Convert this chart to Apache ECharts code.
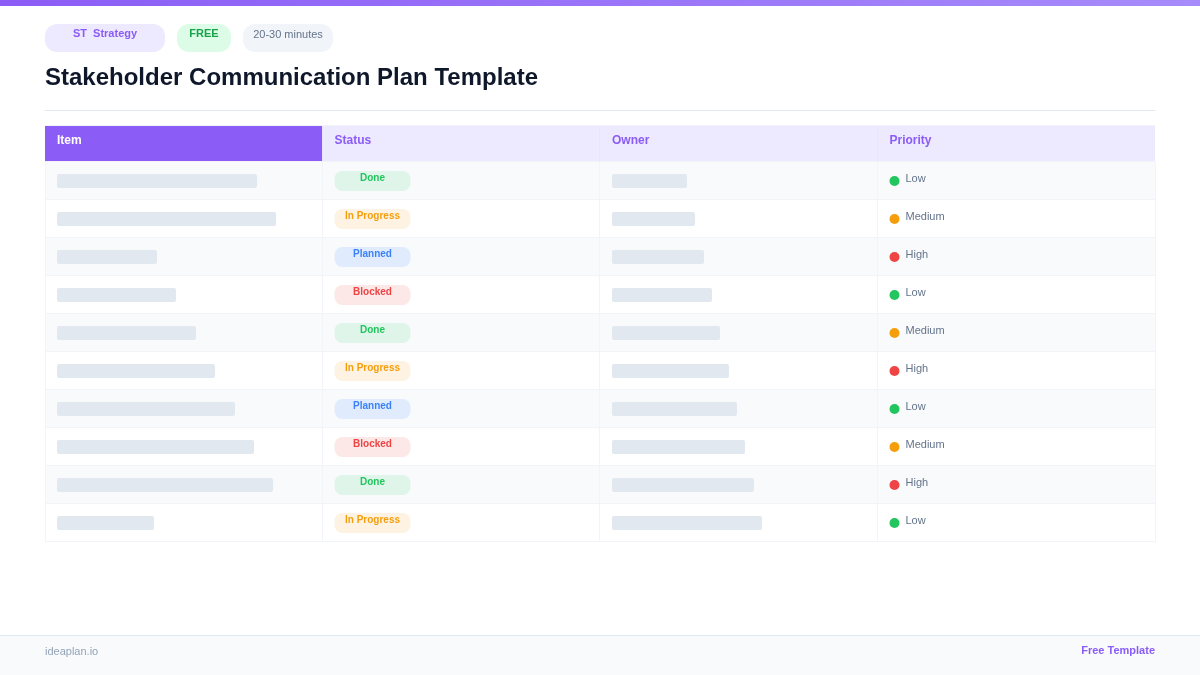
<!DOCTYPE html>
<html lang="en">
<head>
	<meta charset="UTF-8">
	<title>Stakeholder Communication Plan Template</title>
	<style>
		html, body { margin: 0; padding: 0; background: #fff; }
		#main { width: 1200px; height: 675px; }
	</style>
</head>
<body>
	<div id="main"></div>
	<script src="https://cdn.jsdelivr.net/npm/echarts@6/dist/echarts.min.js"></script>
	<script>
		var columns = ['Item', 'Status', 'Owner', 'Priority']
		var rows = ['1', '2', '3', '4', '5', '6', '7', '8', '9', '10']
		var itemWidths = [200, 219, 100, 119, 139, 158, 178, 197, 216, 97]
		var statuses = ['Done', 'In Progress', 'Planned', 'Blocked', 'Done', 'In Progress', 'Planned', 'Blocked', 'Done', 'In Progress']
		var ownerWidths = [75, 83, 92, 100, 108, 117, 125, 133, 142, 150]
		var priorities = ['Low', 'Medium', 'High', 'Low', 'Medium', 'High', 'Low', 'Medium', 'High', 'Low']

		var statusColors = {
			'Done': ['#22c55e', '#dff5e9'],
			'In Progress': ['#f59e0b', '#fef3e2'],
			'Planned': ['#3b82f6', '#e0ecfd'],
			'Blocked': ['#ef4444', '#fde8e8']
		}
		var priorityColors = { 'Low': '#22c55e', 'Medium': '#f59e0b', 'High': '#ef4444' }

		var FONT = '"Liberation Sans", Arial, sans-serif'
		var colWidth = 277.5
		var padding = 12

		function indexed(list) {
			return list.map(function (v, i) { return [i, v] })
		}

		// row background and cell borders
		function renderRow(params, api) {
			var c = api.coord([0, api.value(0)])
			var h = api.size([0, 1])[1]
			var top = c[1] - h / 2
			var children = [{
				type: 'rect',
				shape: { x: c[0], y: top, width: colWidth * 4, height: h },
				style: { fill: api.value(0) % 2 === 0 ? '#f8fafc' : '#ffffff' }
			}, {
				type: 'line',
				shape: { x1: c[0], y1: top + h - 0.5, x2: c[0] + colWidth * 4, y2: top + h - 0.5 },
				style: { stroke: '#f1f5f9', lineWidth: 1 }
			}]
			for (var i = 0; i <= 4; i++) {
				var x = i === 0 ? c[0] + 0.5 : (i === 4 ? c[0] + colWidth * 4 + 0.5 : Math.round(c[0] + colWidth * i) - 0.5)
				children.push({
					type: 'line',
					shape: { x1: x, y1: top, x2: x, y2: top + h },
					style: { stroke: '#f1f5f9', lineWidth: 1 }
				})
			}
			return { type: 'group', children: children }
		}

		function placeholder(col) {
			return function (params, api) {
				var c = api.coord([colWidth * col + padding, api.value(0)])
				return {
					type: 'rect',
					shape: { x: c[0], y: c[1] - 7, width: api.size([api.value(1), 0])[0], height: 14, r: 2 },
					style: { fill: '#e2e8f0' }
				}
			}
		}

		function renderStatus(params, api) {
			var c = api.coord([colWidth + padding, api.value(0)])
			var name = statuses[params.dataIndex]
			var color = statusColors[name]
			return {
				type: 'group',
				children: [{
					type: 'rect',
					shape: { x: c[0], y: c[1] - 10, width: 76, height: 20, r: 8 },
					style: { fill: color[1] }
				}, {
					type: 'text',
					style: {
						x: c[0] + 38, y: c[1] - 3, text: name, fill: color[0],
						font: 'bold 10px ' + FONT, textAlign: 'center', textVerticalAlign: 'middle'
					}
				}]
			}
		}

		function renderPriority(params, api) {
			var c = api.coord([colWidth * 3 + padding, api.value(0)])
			var name = priorities[params.dataIndex]
			return {
				type: 'group',
				children: [{
					type: 'circle',
					shape: { cx: c[0] + 5, cy: c[1], r: 5 },
					style: { fill: priorityColors[name] }
				}, {
					type: 'text',
					style: {
						x: c[0] + 16, y: c[1] - 2, text: name, fill: '#64748b',
						font: '11px ' + FONT, textAlign: 'left', textVerticalAlign: 'middle'
					}
				}]
			}
		}

		function text(x, y, str, fill, font, align) {
			return {
				type: 'text', x: x, y: y,
				style: { text: str, fill: fill, font: font + ' ' + FONT, textAlign: align || 'left', textVerticalAlign: 'middle' }
			}
		}
		function box(x, y, w, h, fill, r) {
			return { type: 'rect', shape: { x: x, y: y, width: w, height: h, r: r || 0 }, style: { fill: fill } }
		}

		// page furniture: top bar, badges, title, table header, footer
		var graphics = [
			{
				type: 'rect', shape: { x: 0, y: 0, width: 1200, height: 6 },
				style: {
					fill: new echarts.graphic.LinearGradient(0, 0, 1, 0, [
						{ offset: 0, color: '#8b5cf6' }, { offset: 1, color: '#a78bfa' }
					])
				}
			},
			box(45, 24, 120, 28, '#ede9fe', 12),
			text(105, 34, 'ST  Strategy', '#8b5cf6', 'bold 11px', 'center'),
			box(177, 24, 54, 28, '#dcfce7', 12),
			text(204, 34, 'FREE', '#16a34a', 'bold 11px', 'center'),
			box(243, 24, 90, 28, '#f1f5f9', 12),
			text(288, 35, '20-30 minutes', '#64748b', '11px', 'center'),
			text(45, 78, 'Stakeholder Communication Plan Template', '#0f172a', 'bold 24px'),
			box(45, 110, 1110, 1, '#e2e8f0'),
			box(45, 125, 1110, 1, '#f1f5f9'),
			box(45, 126, 1110, 35, '#ede9fe'),
			box(45, 126, 277, 35, '#8b5cf6'),
			box(45, 161, 1110, 1, '#f1f5f9'),
			box(0, 635, 1200, 40, '#f8fafc'),
			box(0, 635, 1200, 1, '#e2e8f0'),
			text(45, 652, 'ideaplan.io', '#94a3b8', '11px'),
			text(1155, 651, 'Free Template', '#8b5cf6', 'bold 11px', 'right')
		]
		columns.forEach(function (name, i) {
			graphics.push(text(45 + colWidth * i + padding, 141, name, i === 0 ? '#ffffff' : '#8b5cf6', 'bold 12px'))
			if (i > 0) graphics.push(box(Math.round(45 + colWidth * i) - 1, 126, 1, 35, '#e9e5fb'))
		})

		var myChart = echarts.init(document.getElementById('main'), null, { renderer: 'canvas' })
		var option = {
			animation: false,
			backgroundColor: '#ffffff',
			grid: { left: 45, top: 162, width: 1110, height: 380 },
			xAxis: { type: 'value', min: 0, max: 1110, show: false },
			yAxis: { type: 'category', data: rows, inverse: true, show: false },
			graphic: graphics,
			series: [
				{ type: 'custom', renderItem: renderRow, data: indexed(rows), silent: true },
				{ type: 'custom', renderItem: placeholder(0), data: indexed(itemWidths), silent: true },
				{ type: 'custom', renderItem: renderStatus, data: indexed(statuses.map(function (s, i) { return i })), silent: true },
				{ type: 'custom', renderItem: placeholder(2), data: indexed(ownerWidths), silent: true },
				{ type: 'custom', renderItem: renderPriority, data: indexed(priorities.map(function (s, i) { return i })), silent: true }
			]
		}
		myChart.setOption(option)
	</script>
</body>
</html>
